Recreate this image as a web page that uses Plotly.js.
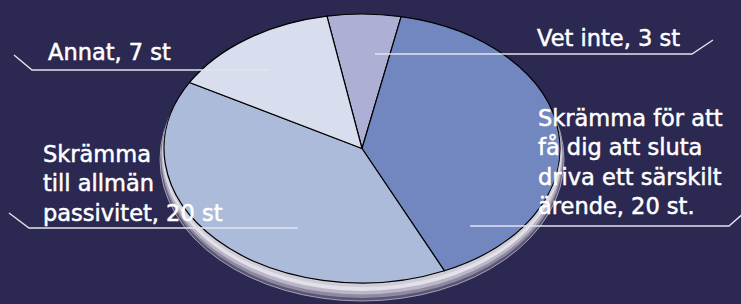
<!DOCTYPE html>
<html><head><meta charset="utf-8">
<script src="https://cdn.plot.ly/plotly-3.0.1.min.js"></script>
<style>html,body{margin:0;padding:0;background:#2b2852;} #chart{width:741px;height:304px;}</style>
</head><body><div id="chart"></div>
<script>
// ---- data ----
const categories = ["Vet inte", "Skrämma för att få dig att sluta driva ett särskilt ärende", "Skrämma till allmän passivitet", "Annat"];
const counts = [3, 20, 20, 7];
const sliceColors = ["#adb0d4", "#7287bf", "#adbbdb", "#d8deee"];
const labelTexts = [
  "Vet inte, " + counts[0] + " st",
  "Skrämma för att<br>få dig att sluta<br>driva ett särskilt<br>ärende, " + counts[1] + " st.",
  "Skrämma<br>till allmän<br>passivitet, " + counts[2] + " st",
  "Annat, " + counts[3] + " st"
];

// ---- layout helpers (pixel -> paper) ----
const W = 741, H = 304;
const px = x => x / W, py = y => 1 - y / H;
const CX = 362, CY = 148.5, RY = 134.5, RX = 198;

const pieDomain = {x: [px(CX - RY), px(CX + RY)], y: [py(CY + RY), py(CY - RY)]};

function ell(cx, cy, rx, ry, fill, line, lw) {
  return {type: 'circle', xref: 'paper', yref: 'paper', layer: 'below',
    x0: px(cx - rx), x1: px(cx + rx), y0: py(cy + ry), y1: py(cy - ry),
    fillcolor: fill, line: {color: line || fill, width: lw || 0}};
}
function leader(pts) {
  let d = 'M' + pts.map(p => px(p[0]) + ',' + py(p[1])).join(' L');
  return {type: 'path', xref: 'paper', yref: 'paper', layer: 'above', path: d,
    line: {color: '#e4e4ec', width: 1.4}};
}

const shapes = [
  ell(CX, CY + 11, RX + 4, RY + 7, '#5a5572', '#bdb9c9', 0.8),
  ell(CX, CY + 9, RX + 3, RY + 6, '#8e89a0'),
  ell(CX, CY + 7, RX + 2.5, RY + 4.5, '#bab6c7'),
  ell(CX, CY + 5, RX + 1.5, RY + 3, '#e2e0e8'),
  ell(CX, CY + 2.5, RX + 1, RY + 1.5, '#cfccd8'),
  leader([[14, 55], [32, 70], [269, 70]]),
  leader([[375, 54], [692, 54], [713, 40]]),
  leader([[9, 213], [29, 228], [298, 228]]),
  leader([[470, 226], [729, 226], [745, 212]])
];

const font = {family: 'DejaVu Sans', size: 22.5, color: '#ffffff'};
function ann(text, x, y) {
  return {text: text, xref: 'paper', yref: 'paper', x: px(x), y: py(y),
    xanchor: 'left', yanchor: 'middle', align: 'left', showarrow: false, font: font};
}
const annotations = [
  ann(labelTexts[3], 46, 52),
  ann(labelTexts[0], 535, 38),
  ann(labelTexts[1], 536, 162),
  ann(labelTexts[2], 41, 183)
];

const trace = {
  type: 'pie', labels: categories, values: counts, sort: false,
  direction: 'clockwise', rotation: -10.2,
  marker: {colors: sliceColors, line: {color: '#000000', width: 1.2}},
  textinfo: 'none', hoverinfo: 'none', domain: pieDomain, showlegend: false
};

const layout = {
  width: W, height: H, margin: {l: 0, r: 0, t: 0, b: 0},
  paper_bgcolor: '#2b2852', plot_bgcolor: '#2b2852',
  showlegend: false, shapes: shapes, annotations: annotations
};

Plotly.newPlot('chart', [trace], layout, {displayModeBar: false, staticPlot: true}).then(gd => {
  const sx = RX / RY;
  const cx = W * (pieDomain.x[0] + pieDomain.x[1]) / 2;
  const pl = gd.querySelector('.pielayer');
  if (pl) {
    pl.setAttribute('transform', 'translate(' + cx + ',0) scale(' + sx + ',1) translate(' + (-cx) + ',0)');
    pl.querySelectorAll('path').forEach(p => p.setAttribute('vector-effect', 'non-scaling-stroke'));
  }
  gd.querySelectorAll('.annotation-text').forEach(t => {
    t.style.stroke = '#ffffff'; t.style.strokeWidth = '0.5px';
  });
});
</script>
</body></html>
